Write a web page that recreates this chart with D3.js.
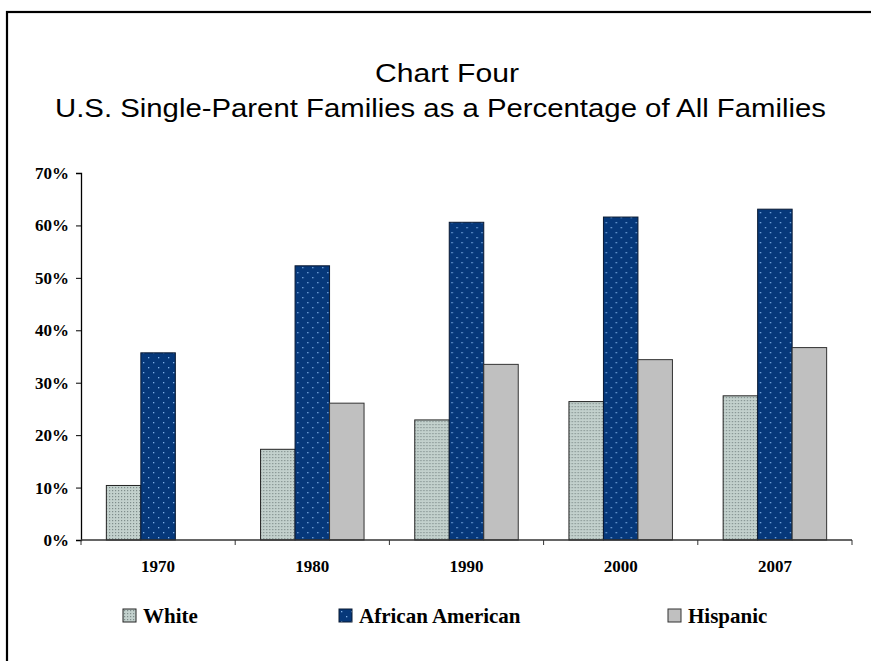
<!DOCTYPE html>
<html>
<head>
<meta charset="utf-8">
<script src="https://cdn.jsdelivr.net/npm/d3@7"></script>
<style>
  html, body { margin: 0; padding: 0; background: #fff; }
  svg { display: block; }
</style>
</head>
<body>
<svg id="chart" width="871" height="661"></svg>
<script>
// Data
const years = ["1970", "1980", "1990", "2000", "2007"];
const seriesNames = ["White", "African American", "Hispanic"];
const white = [10.4, 17.3, 22.9, 26.4, 27.5];
const africanAmerican = [35.7, 52.3, 60.6, 61.6, 63.1];
const hispanic = [null, 26.1, 33.5, 34.4, 36.7];
const yTicks = [0, 10, 20, 30, 40, 50, 60, 70];

const seriesValues = [white, africanAmerican, hispanic];

const svg = d3.select("#chart");

// Patterns for bar fills
const defs = svg.append("defs");

const pWhite = defs.append("pattern")
  .attr("id", "pat-white").attr("patternUnits", "userSpaceOnUse")
  .attr("width", 3).attr("height", 3);
pWhite.append("rect").attr("width", 3).attr("height", 3).attr("fill", "#c3d1cd");
pWhite.append("rect").attr("x", 1).attr("y", 1).attr("width", 1.2).attr("height", 1.2).attr("fill", "#7f8d8b");

const pBlue = defs.append("pattern")
  .attr("id", "pat-blue").attr("patternUnits", "userSpaceOnUse")
  .attr("width", 10).attr("height", 10);
pBlue.append("rect").attr("width", 10).attr("height", 10).attr("fill", "#06387a");
pBlue.append("rect").attr("x", 2).attr("y", 2).attr("width", 1.3).attr("height", 1.3).attr("fill", "#7fb0e6");
pBlue.append("rect").attr("x", 7).attr("y", 7).attr("width", 1.3).attr("height", 1.3).attr("fill", "#7fb0e6");

const fills = ["url(#pat-white)", "url(#pat-blue)", "#c0c0c0"];
const strokes = ["#222", "#0a1a33", "#333"];

// Outer frame
svg.append("rect")
  .attr("x", 7).attr("y", 12).attr("width", 900).attr("height", 700)
  .attr("fill", "#fff").attr("stroke", "#000").attr("stroke-width", 2.2);

// Title
svg.append("text")
  .attr("x", 375).attr("y", 82)
  .attr("textLength", 144).attr("lengthAdjust", "spacingAndGlyphs")
  .attr("font-family", "Arial, 'Liberation Sans', sans-serif")
  .attr("font-size", 26).attr("fill", "#000")
  .text("Chart Four");
svg.append("text")
  .attr("x", 55).attr("y", 117)
  .attr("textLength", 771).attr("lengthAdjust", "spacingAndGlyphs")
  .attr("font-family", "Arial, 'Liberation Sans', sans-serif")
  .attr("font-size", 26).attr("fill", "#000")
  .text("U.S. Single-Parent Families as a Percentage of All Families");

// Scales
const plotLeft = 81, plotRight = 852, plotTop = 173, plotBottom = 540;

const x0 = d3.scaleBand().domain(years).range([plotLeft, plotRight]).paddingInner(0).paddingOuter(0);
const x1 = d3.scaleBand().domain(seriesNames).range([0, x0.bandwidth()]).paddingInner(0).paddingOuter(0.735);
const y = d3.scaleLinear().domain([0, 70]).range([plotBottom, plotTop]);

// Bars
const groups = svg.append("g").selectAll("g")
  .data(years).join("g")
  .attr("transform", d => `translate(${x0(d)},0)`);

groups.selectAll("rect")
  .data((yr, i) => seriesNames.map((s, k) => ({ s, k, v: seriesValues[k][i] })).filter(d => d.v != null))
  .join("rect")
  .attr("x", d => x1(d.s))
  .attr("y", d => y(d.v))
  .attr("width", x1.bandwidth())
  .attr("height", d => y(0) - y(d.v))
  .attr("fill", d => fills[d.k])
  .attr("stroke", d => strokes[d.k])
  .attr("stroke-width", 1);

// Y axis
const yAxis = d3.axisLeft(y).tickValues(yTicks).tickSize(5).tickPadding(7)
  .tickFormat(d => d + "%");
const gy = svg.append("g").attr("transform", `translate(${plotLeft},0)`).call(yAxis);
gy.select(".domain").attr("stroke", "#000").attr("stroke-width", 1.3);
gy.selectAll(".tick line").attr("stroke", "#000");
gy.selectAll(".tick text")
  .attr("font-family", "'Times New Roman', 'Liberation Serif', serif")
  .attr("font-weight", "bold").attr("font-size", 17).attr("fill", "#000");

// X axis: ticks at category boundaries
const boundaries = years.map(d => x0(d)).concat([plotRight]);
const gx = svg.append("g");
gx.append("line")
  .attr("x1", plotLeft).attr("x2", plotRight)
  .attr("y1", y(0)).attr("y2", y(0))
  .attr("stroke", "#333").attr("stroke-width", 1.3);
gx.selectAll("line.tk").data(boundaries).join("line")
  .attr("class", "tk")
  .attr("x1", d => d).attr("x2", d => d)
  .attr("y1", y(0)).attr("y2", y(0) + 5)
  .attr("stroke", "#333");
gx.selectAll("text").data(years).join("text")
  .attr("x", d => x0(d) + x0.bandwidth() / 2)
  .attr("y", 572)
  .attr("text-anchor", "middle")
  .attr("font-family", "'Times New Roman', 'Liberation Serif', serif")
  .attr("font-weight", "bold").attr("font-size", 17).attr("fill", "#000")
  .text(d => d);

// Legend
const legendX = [123, 339, 668];
const legend = svg.append("g").selectAll("g")
  .data(seriesNames).join("g")
  .attr("transform", (d, i) => `translate(${legendX[i]},609)`);
legend.append("rect")
  .attr("width", 13).attr("height", 13)
  .attr("fill", (d, i) => fills[i])
  .attr("stroke", (d, i) => strokes[i]).attr("stroke-width", 1);
legend.append("text")
  .attr("x", 20).attr("y", 13.8)
  .attr("font-family", "'Times New Roman', 'Liberation Serif', serif")
  .attr("font-weight", "bold").attr("font-size", 21).attr("fill", "#000")
  .text(d => d);
</script>
</body>
</html>
